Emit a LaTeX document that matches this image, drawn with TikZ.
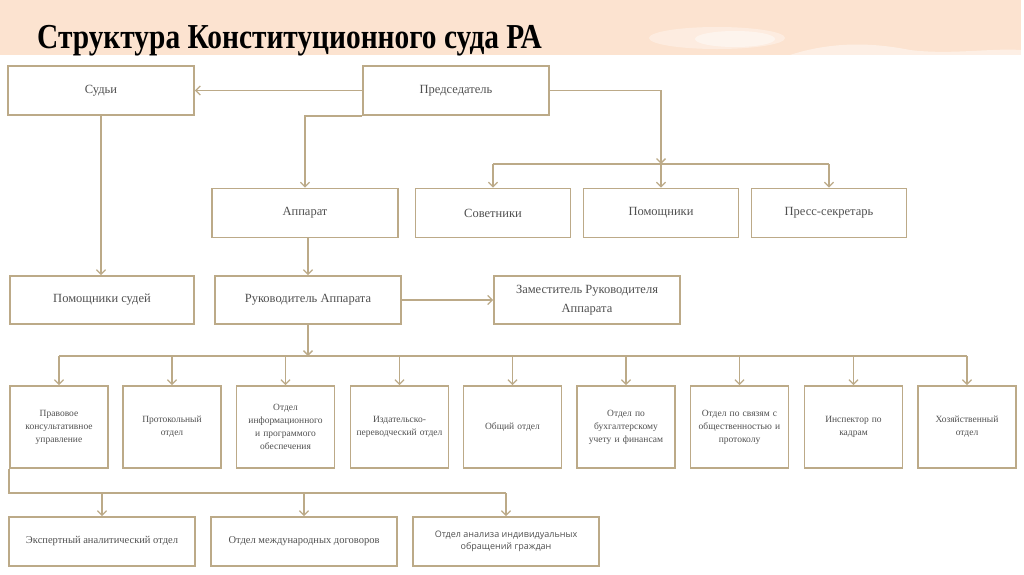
\documentclass[tikz,border=0pt]{standalone}
\usepackage{fontspec}
\setmainfont{Liberation Serif}
\newfontfamily\titlefont[FakeStretch=0.84]{Liberation Serif}
\newfontfamily\sansf{Open Sans}
\usetikzlibrary{arrows.meta}
\definecolor{band}{RGB}{252,227,208}
\definecolor{lc}{RGB}{188,170,136}
\definecolor{txt}{RGB}{80,80,80}
\tikzset{
  box/.style={draw=lc, line width=1.8pt, fill=white, text=txt, align=center,
    inner sep=1pt, minimum height=49pt},
  big/.style={box, minimum width=186pt, font=\fontsize{12.5}{15}\selectfont},
  mid/.style={box, minimum width=155pt, font=\fontsize{12.5}{15}\selectfont},
  dep/.style={box, minimum width=98pt, minimum height=82pt, text width=90pt,
    font=\fontsize{9.5}{13}\selectfont},
  low/.style={box, minimum width=186pt, font=\fontsize{10.5}{13}\selectfont},
  conn/.style={draw=lc, line width=1.7pt},
  arr/.style={conn, -{Straight Barb[length=4.5pt,width=9pt,line width=1.3pt]}}
}
\begin{document}
\begin{tikzpicture}[x=1pt,y=-1pt]
\useasboundingbox (0,0) rectangle (1024,574);
\fill[white] (0,0) rectangle (1024,574);
% title band
\fill[band] (0,0) rectangle (1021,55);
\fill[white, opacity=0.35] (717,38) ellipse (68pt and 11pt);
\fill[white, opacity=0.45] (735,39) ellipse (40pt and 8pt);
\fill[white, opacity=0.45] (790,55) .. controls (830,42) and (870,42) .. (910,50)
  .. controls (950,55) and (990,48) .. (1021,50) -- (1021,55) -- cycle;
\node[anchor=base west, inner sep=0, text=black, font=\titlefont\bfseries\fontsize{35}{40}\selectfont]
  (title) at (37,48) {Структура Конституционного суда РА};

% top level
\node[big] (sud) at (101,90.5) {Судьи};
\node[big] (pred) at (456,90.5) {Председатель};
\node[big] (app) at (305,213) {Аппарат};
\node[mid] (sov) at (493,213) {Советники};
\node[mid] (pom) at (661,213) {Помощники};
\node[mid] (press) at (829,213) {Пресс-секретарь};
\node[big, minimum width=184pt, minimum height=48pt] (pomsud) at (102,300) {Помощники судей};
\node[big, minimum height=48pt] (ruk) at (308,300) {Руководитель Аппарата};
\node[big, minimum height=48pt, font=\fontsize{12.5}{19}\selectfont] (zam) at (587,300) {Заместитель Руководителя\\Аппарата};

% departments
\node[dep] (d1) at (59,427) {Правовое\\консультативное\\управление};
\node[dep] (d2) at (172,427) {Протокольный\\отдел};
\node[dep] (d3) at (285.5,427) {Отдел\\информационного\\и программого\\обеспечения};
\node[dep] (d4) at (399.5,427) {Издательско-\\переводческий отдел};
\node[dep] (d5) at (512.5,427) {Общий отдел};
\node[dep] (d6) at (626,427) {Отдел по\\бухгалтерскому\\учету и финансам};
\node[dep] (d7) at (739.5,427) {Отдел по связям с\\общественностью и\\протоколу};
\node[dep] (d8) at (853.5,427) {Инспектор по\\кадрам};
\node[dep] (d9) at (967,427) {Хозяйственный\\отдел};

% bottom row
\node[low] (ba) at (102,541.5) {Экспертный аналитический отдел};
\node[low] (bb) at (304,541.5) {Отдел международных договоров};
\node[low, font=\sansf\fontsize{9}{12.5}\selectfont] (bc) at (506,541.5) {Отдел анализа индивидуальных\\обращений граждан};

% connectors
\draw[arr] (pred.west) -- (sud.east);
\draw[arr] (pred.south west) -| (app.north);
\coordinate (bus1) at (661,164);
\draw[arr] (pred.east) -| (bus1);
\draw[conn] (sov.north |- bus1) -- (press.north |- bus1);
\foreach \n in {sov,pom,press} \draw[arr] (\n.north |- bus1) -- (\n.north);
\draw[arr] (sud.south) -- (sud.south |- pomsud.north);
\draw[arr] (ruk.north |- app.south) -- (ruk.north);
\draw[arr] (ruk.east) -- (zam.west);
\coordinate (bus2) at (308,356);
\draw[arr] (ruk.south) -- (bus2);
\draw[conn] (d1.north |- bus2) -- (d9.north |- bus2);
\foreach \n in {d1,d2,d3,d4,d5,d6,d7,d8,d9} \draw[arr] (\n.north |- bus2) -- (\n.north);
\coordinate (bus3) at (506,493);
\draw[conn] (d1.south west) |- (bus3);
\foreach \n in {ba,bb,bc} \draw[arr] (\n.north |- bus3) -- (\n.north);
\end{tikzpicture}
\end{document}
